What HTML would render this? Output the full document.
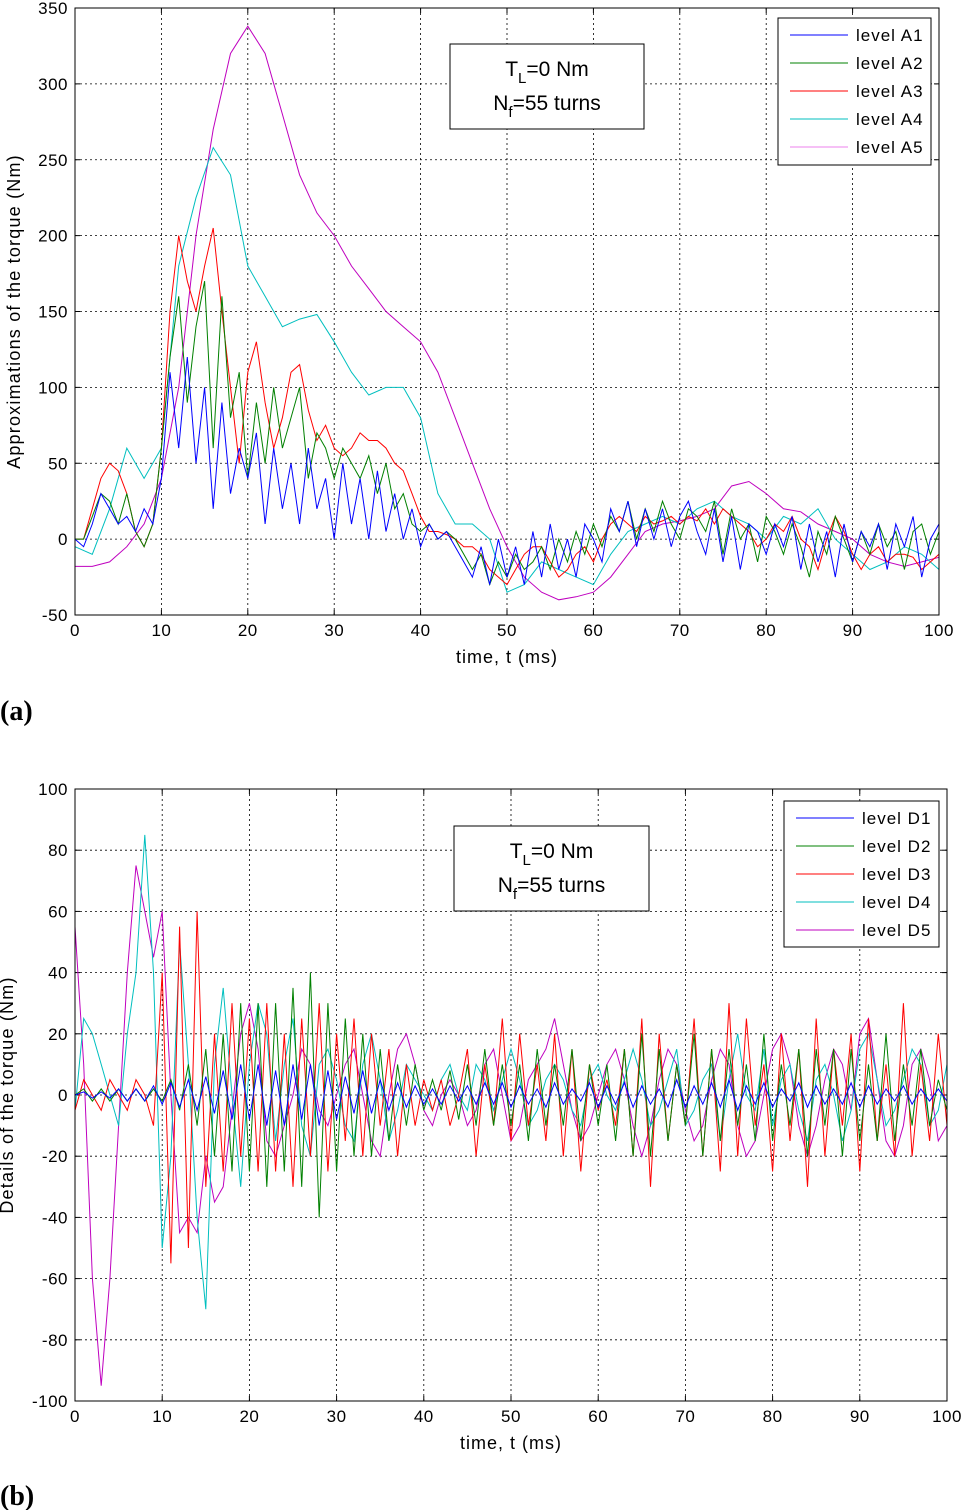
<!DOCTYPE html>
<html><head><meta charset="utf-8"><style>
html,body{margin:0;padding:0;background:#fff;}
svg{display:block;font-family:"Liberation Sans",Arial,sans-serif;}
</style></head><body>
<svg id="s" width="962" height="1510" viewBox="0 0 962 1510">
<text x="0" y="720" font-family="Liberation Serif" font-weight="bold" font-size="28">(a)</text>
<text x="0" y="1505" font-family="Liberation Serif" font-weight="bold" font-size="28">(b)</text>
</svg>
<script>
// Panel (a) data
const aT2 = Array.from({length:51},(_,i)=>i*2);
const aT1 = Array.from({length:101},(_,i)=>i);
const a5 = [-18,-18,-15,-5,10,40,100,200,270,320,338,320,280,240,215,200,180,165,150,140,130,110,80,50,20,-5,-25,-35,-40,-38,-35,-25,-10,5,10,12,15,20,35,38,30,20,18,10,5,0,-10,-15,-18,-15,-12];
const a4 = [-5,-10,20,60,40,60,180,225,258,240,180,160,140,145,148,130,110,95,100,100,80,30,10,10,0,-35,-30,-15,-20,-25,-30,-10,5,10,15,10,20,25,15,10,0,15,10,20,0,-10,-20,-15,-5,-10,-20];
const a3 = [0,0,20,40,50,45,30,5,-5,10,60,150,200,170,150,180,205,150,100,50,110,130,90,60,80,110,115,85,65,75,60,55,60,70,65,65,60,50,45,30,15,5,5,3,0,-5,-5,-10,-20,-25,-30,-20,-10,-5,-5,-15,-25,-20,-10,-5,-15,0,10,15,10,5,15,10,12,15,10,15,12,20,10,20,15,10,5,-5,0,10,5,15,0,-5,-20,0,15,5,-10,-20,-10,-5,-15,-10,-10,-12,-20,-15,-10];
const a2 = [0,0,15,30,25,10,30,5,-5,10,60,120,160,90,140,170,60,160,80,110,40,90,50,100,60,80,100,40,70,60,40,60,50,40,55,30,50,20,30,10,5,10,0,5,0,-10,-20,-10,-30,-15,-25,-10,-20,-15,-5,-20,0,-15,5,-10,10,-5,15,5,25,0,20,5,25,10,0,20,15,5,25,-10,20,0,10,-15,15,5,-10,10,-5,-25,5,-10,15,0,-15,5,-10,10,-5,5,-20,5,10,-10,5];
const a1 = [0,-5,10,30,20,10,15,5,20,10,40,110,60,120,50,100,20,90,30,60,40,70,10,60,20,50,10,60,20,40,0,50,10,40,0,45,5,30,0,20,-5,10,0,5,-5,-15,-25,-5,-30,0,-25,-5,-30,5,-25,10,-20,0,-25,10,0,-15,20,5,25,-5,20,0,20,-5,15,25,5,-10,20,-15,15,-20,10,5,-10,10,-5,15,-20,10,-15,5,-25,10,-15,5,-5,10,-20,10,-5,15,-25,0,10];
const aXTicks = [0,10,20,30,40,50,60,70,80,90,100];
const aYTicks = [-50,0,50,100,150,200,250,300,350];
// Panel (b) data
const d5 = [55,10,-60,-95,-60,-10,40,75,60,45,60,0,-45,-40,-45,-20,-35,-30,-5,20,30,15,-15,-20,-10,0,15,10,-5,-10,0,10,15,0,-15,-20,0,15,20,10,-5,-10,0,5,0,-10,-5,10,15,0,-15,-10,5,10,15,25,10,-5,-15,-10,0,10,15,5,-10,-20,-10,5,15,10,-5,-15,-10,5,15,10,-10,-20,-15,0,15,20,10,-10,-20,-10,5,15,10,-5,20,25,5,-15,-20,-10,10,15,5,-15,-10];
const d4 = [-5,25,20,10,0,-10,20,40,85,40,-50,-20,50,10,-40,-70,10,35,0,-30,10,30,20,-15,10,25,-10,-20,10,15,5,-10,-15,10,20,5,-15,-5,10,5,0,-5,5,10,0,-5,10,5,-5,5,15,5,-10,-5,5,10,5,-5,-10,5,10,0,-5,5,15,5,-10,-5,5,15,-10,-5,5,10,-15,5,20,0,-5,15,-10,5,10,-5,-15,5,10,0,-15,-5,15,20,5,-10,-5,5,15,10,-10,-5,10];
const d3 = [-5,5,0,-5,5,0,-5,5,0,-10,40,-55,55,-50,60,-30,20,-25,30,-20,25,-25,30,-25,20,-30,25,-20,30,-25,20,-15,25,-20,20,-10,15,-20,10,-10,5,-5,5,-10,0,15,-20,10,-10,25,-15,20,-10,10,-15,20,-20,15,-25,10,-5,5,-10,15,-20,25,-30,20,-15,10,-10,25,-20,15,-25,30,-20,25,-10,10,-25,20,-15,15,-30,25,-20,15,-10,20,-25,25,-15,10,-20,30,-20,10,-15,20,-10];
const d2 = [0,2,-2,2,-2,2,-2,2,-2,2,-2,5,-5,10,-10,15,-20,20,-25,30,-25,30,-30,30,-25,35,-30,40,-40,30,-25,25,-20,20,-20,15,-15,10,-10,10,-5,5,-5,8,-8,10,-10,15,-10,10,-10,10,-15,15,-10,10,-10,15,-15,10,-10,10,-15,15,-20,20,-20,15,-15,10,-10,20,-20,15,-15,15,-10,10,-15,20,-15,10,-10,15,-20,15,-10,15,-20,15,-15,10,-15,20,-15,10,-10,15,-10,5,-5];
const d1 = [0,1,-1,1,-1,2,-2,2,-2,3,-3,4,-4,5,-5,6,-6,8,-8,10,-8,10,-10,8,-10,10,-8,10,-10,8,-8,6,-6,8,-6,5,-5,4,-4,3,-3,2,-3,3,-2,3,-3,4,-3,4,-4,3,-3,2,-4,4,-3,2,-2,4,-4,3,-3,4,-4,3,-3,2,-4,5,-4,3,-3,4,-4,5,-5,3,-3,4,-4,2,-2,4,-4,3,-3,2,-3,4,-4,3,-3,2,-2,3,-3,2,-2,2,-2];
const bXTicks = [0,10,20,30,40,50,60,70,80,90,100];
const bYTicks = [-100,-80,-60,-40,-20,0,20,40,60,80,100];

const NS='http://www.w3.org/2000/svg';
const svg=document.getElementById('s');
function mk(tag,attrs,parent){const e=document.createElementNS(NS,tag);for(const k in attrs)e.setAttribute(k,attrs[k]);(parent||svg).appendChild(e);return e;}

function panel(cfg){
  const {x0,x1,y0,y1,ymin,ymax,xt,yt,key}=cfg;
  const sx=v=>x0+(v-0)/100*(x1-x0);
  const sy=v=>y1-(v-ymin)/(ymax-ymin)*(y1-y0);
  const g=mk('g',{});
  
  
  mk('rect',{x:x0,y:y0,width:x1-x0,height:y1-y0,fill:'#fff',stroke:'none'},g);
  xt.forEach(v=>{
    if(v>0&&v<100){const l=mk('line',{x1:sx(v),x2:sx(v),y1:y0,y2:y1,stroke:'#000','stroke-width':0.8,'stroke-dasharray':'2,3'},g);
    
    }
    mk('line',{x1:sx(v),x2:sx(v),y1:y1,y2:y1-5,stroke:'#000'},g);
    mk('line',{x1:sx(v),x2:sx(v),y1:y0,y2:y0+5,stroke:'#000'},g);
    const t=mk('text',{x:sx(v),y:y1+21,'font-size':17,'letter-spacing':0.5,'text-anchor':'middle'},g);t.textContent=v;
    
    
  });
  yt.forEach(v=>{
    if(v>ymin&&v<ymax){const l=mk('line',{x1:x0,x2:x1,y1:sy(v),y2:sy(v),stroke:'#000','stroke-width':0.8,'stroke-dasharray':'2,3'},g);
    
    }
    mk('line',{x1:x0,x2:x0+5,y1:sy(v),y2:sy(v),stroke:'#000'},g);
    mk('line',{x1:x1,x2:x1-5,y1:sy(v),y2:sy(v),stroke:'#000'},g);
    const t=mk('text',{x:x0-7,y:sy(v)+6,'font-size':17,'letter-spacing':0.5,'text-anchor':'end'},g);t.textContent=v;
    
    
  });
  cfg.series.forEach(s=>{
    const pts=s.y.map((v,i)=>sx(s.x[i]).toFixed(1)+','+sy(v).toFixed(1)).join(' ');
    const p=mk('polyline',{points:pts,fill:'none',stroke:s.c,'stroke-width':1},g);
    
    
  });
  const b=mk('rect',{x:x0,y:y0,width:x1-x0,height:y1-y0,fill:'none',stroke:'#000','stroke-width':1},g);
  
  
  const xl=mk('text',{x:(x0+x1)/2,y:y1+48,'font-size':18,'letter-spacing':1,'text-anchor':'middle'},g);xl.textContent='time, t (ms)';
  
  
  const yl=mk('text',{x:0,y:0,'font-size':18,'letter-spacing':1.2,'text-anchor':'middle',transform:`translate(${cfg.ylx},${(y0+y1)/2}) rotate(-90)`},g);yl.textContent=cfg.ylabel;
  
  
  const an=cfg.ann;
  const ar=mk('rect',{x:an[0],y:an[1],width:an[2],height:an[3],fill:'#fff',stroke:'#000'},g);
  
  
  const cx=an[0]+an[2]/2;
  const t1=mk('text',{x:cx,y:an[1]+32,'font-size':21,'text-anchor':'middle'},g);
  t1.innerHTML='T<tspan font-size="15" dy="7">L</tspan><tspan dy="-7">=0 Nm</tspan>';
  
  
  const t2=mk('text',{x:cx,y:an[1]+66,'font-size':21,'text-anchor':'middle'},g);
  t2.innerHTML='N<tspan font-size="15" dy="7">f</tspan><tspan dy="-7">=55 turns</tspan>';
  
  
  const lg=cfg.leg;
  const lr=mk('rect',{x:lg[0],y:lg[1],width:lg[2],height:lg[3],fill:'#fff',stroke:'#000'},g);
  
  
  cfg.legendItems.forEach((it,i)=>{
    const yy=lg[1]+17+i*28;
    const ll=mk('line',{x1:lg[0]+12,x2:lg[0]+70,y1:yy,y2:yy,stroke:it.c},g);
    
    
    const lt=mk('text',{x:lg[0]+78,y:yy+6,'font-size':17,'letter-spacing':1},g);lt.textContent=it.t;
    
    
  });
}
const cols=['#0000ff','#008000','#ff0000','#00bfbf','#bf00bf'];
panel({key:'approx',x0:75,x1:939,y0:8,y1:615,ymin:-50,ymax:350,xt:aXTicks,yt:aYTicks,ylx:20,
  ylabel:'Approximations of the torque (Nm)',ann:[450,44,194,85],leg:[778,18,153,147],
  legendItems:[{t:'level A1',c:cols[0]},{t:'level A2',c:cols[1]},{t:'level A3',c:cols[2]},{t:'level A4',c:cols[3]},{t:'level A5',c:'#ee82ee'}],
  series:[{name:'series-a5',x:aT2,y:a5,c:cols[4]},{name:'series-a4',x:aT2,y:a4,c:cols[3]},{name:'series-a3',x:aT1,y:a3,c:cols[2]},{name:'series-a2',x:aT1,y:a2,c:cols[1]},{name:'series-a1',x:aT1,y:a1,c:cols[0]}]});
panel({key:'details',x0:75,x1:947,y0:789,y1:1401,ymin:-100,ymax:100,xt:bXTicks,yt:bYTicks,ylx:13,
  ylabel:'Details of the torque (Nm)',ann:[454,826,195,85],leg:[784,801,155,146],
  legendItems:[{t:'level D1',c:cols[0]},{t:'level D2',c:cols[1]},{t:'level D3',c:cols[2]},{t:'level D4',c:cols[3]},{t:'level D5',c:cols[4]}],
  series:[{name:'series-d5',x:aT1,y:d5,c:cols[4]},{name:'series-d4',x:aT1,y:d4,c:cols[3]},{name:'series-d3',x:aT1,y:d3,c:cols[2]},{name:'series-d2',x:aT1,y:d2,c:cols[1]},{name:'series-d1',x:aT1,y:d1,c:cols[0]}]});
</script>
</body></html>
